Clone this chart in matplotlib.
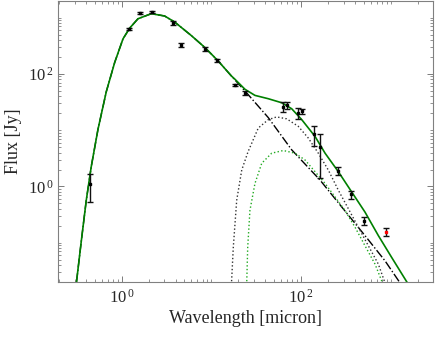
import matplotlib
matplotlib.use('Agg')
import matplotlib.pyplot as plt
from matplotlib.ticker import LogLocator, NullFormatter

plt.rcParams['font.family'] = ['Liberation Serif', 'DejaVu Serif']
plt.rcParams['mathtext.fontset'] = 'custom'
plt.rcParams['mathtext.rm'] = 'Liberation Serif'
plt.rcParams['mathtext.it'] = 'Liberation Serif:italic'

# photometry (wavelength in micron, flux in Jy)
phot_wl = [0.44, 1.22, 1.6, 2.16, 3.73, 4.58, 8.55, 11.6, 18.3, 23.9,
           63.4, 69.1, 91.6, 101.6, 140, 162.5, 256, 357, 507]
phot_flux = [1.09, 630, 1190, 1240, 800, 330, 277, 174, 63.6, 46.4,
             26.3, 27.7, 20.4, 21.5, 8.5, 5.0, 1.89, 0.72, 0.247]
phot_err = [0.57, 25, 45, 45, 55, 25, 20, 13, 2.5, 3.5,
            5.2, 3.8, 4.6, 2.5, 3.2, 3.6, 0.3, 0.11, 0.039]

# sub-mm point drawn in red
smm_wl = [891]
smm_flux = [0.157]
smm_err = [0.024]

# total model (green solid)
tot_wl = [0.30, 0.355, 0.403, 0.458, 0.544, 0.673, 0.836, 1.034, 1.228, 1.52,
          2.14, 3.01, 3.90, 5.97, 8.41, 11.85, 16.7, 18.3, 23.7, 30.6,
          43.1, 60.8, 78.6, 101.6, 143, 185, 260, 366, 515, 726,
          1023, 1503, 1750]
tot_flux = [0.011, 0.108, 0.568, 2.25, 10.3, 48, 160, 419, 651, 955,
            1175, 1069, 834, 480, 297, 171, 92, 80.4, 53.2, 41.5,
            36.2, 30.7, 24.0, 15.4, 7.74, 3.90, 1.83, 0.80, 0.351, 0.134,
            0.0547, 0.0203, 0.014]

# stellar photosphere (black dash-dot)
star_wl = [0.30, 0.355, 0.403, 0.458, 0.544, 0.673, 0.836, 1.034, 1.228, 1.52,
           2.14, 3.01, 3.90, 5.97, 8.41, 11.85, 16.7, 23.7, 43.1, 78.6,
           162.5, 284, 515, 861, 1268, 1477]
star_flux = [0.011, 0.108, 0.568, 2.25, 10.3, 48, 160, 419, 651, 955,
             1175, 1069, 834, 480, 297, 171, 92, 49.6, 16.7, 4.47,
             1.30, 0.431, 0.134, 0.0478, 0.0193, 0.0139]

# warm dust (black dotted)
dust1_wl = [16.75, 16.8, 17.55, 19.15, 21.8, 25.6, 33.3, 43.1, 53.4, 69.1,
            93.0, 120.3, 155.5, 201, 260, 336, 434, 561, 726, 847, 931]
dust1_flux = [0.0113, 0.0209, 0.0827, 0.568, 1.96, 4.12, 10.9, 15.4, 17.2, 15.9,
              11.7, 7.24, 3.90, 1.96, 0.859, 0.403, 0.189, 0.0887, 0.0417, 0.0209, 0.0113]

# cold dust (green dotted)
dust2_wl = [24.6, 24.8, 25.4, 26.9, 30.6, 36.4, 47.0, 63.4, 85.5, 110.5,
            143, 185, 239, 308, 399, 515, 667, 792, 861]
dust2_flux = [0.0113, 0.0209, 0.0827, 0.376, 1.13, 2.58, 3.90, 4.35, 3.90, 2.96,
              1.83, 1.13, 0.651, 0.376, 0.189, 0.0887, 0.0417, 0.0209, 0.0113]

green = '#008000'

fig = plt.figure(figsize=(4.36, 3.39), dpi=100)
ax = fig.add_axes([0.133, 0.168, 0.860, 0.830])

ax.plot(star_wl, star_flux, color='k', ls='-.', lw=1.0)
ax.plot(dust1_wl, dust1_flux, color='#333333', ls=':', lw=1.0)
ax.plot(dust2_wl, dust2_flux, color='#22aa22', ls=':', lw=1.0)
ax.plot(tot_wl, tot_flux, color=green, ls='-', lw=1.2)

ax.errorbar(phot_wl, phot_flux, yerr=phot_err, fmt='s', ms=2, color='k',
            ecolor='#111111', elinewidth=1.0, capsize=2.2, capthick=1.0)
ax.errorbar(smm_wl, smm_flux, yerr=smm_err, fmt='none', ecolor='#111111',
            elinewidth=1.0, capsize=2.2, capthick=1.0)
ax.plot(smm_wl, smm_flux, 's', ms=1.5, color='red')

ax.set_xscale('log')
ax.set_yscale('log')
ax.set_xlim(0.195, 2950)
ax.set_ylim(0.02, 2000)

ax.set_xticks([1, 100])
ax.set_xticklabels([r'$10^{\,0}$', r'$10^{\,2}$'])
ax.set_yticks([1, 100])
ax.set_yticklabels([r'$10^{\,0}$', r'$10^{\,2}$'])
for axis in (ax.xaxis, ax.yaxis):
    axis.set_minor_locator(LogLocator(base=10, subs=range(1, 10), numticks=30))
    axis.set_minor_formatter(NullFormatter())

ax.tick_params(which='both', direction='in', top=True, right=True,
               color='#666666', labelsize=12, labelcolor='#262626')
ax.tick_params(which='major', length=4, width=0.6)
ax.tick_params(which='minor', length=2, width=0.5)
ax.tick_params(axis='x', pad=5)
for s in ax.spines.values():
    s.set_color('#808080')
    s.set_linewidth(0.8)

ax.set_xlabel('Wavelength [micron]', fontsize=13, color='#262626', labelpad=2)
ax.set_ylabel('Flux [Jy]', fontsize=13, color='#262626', labelpad=4)

fig.savefig('out.png', dpi=100)
